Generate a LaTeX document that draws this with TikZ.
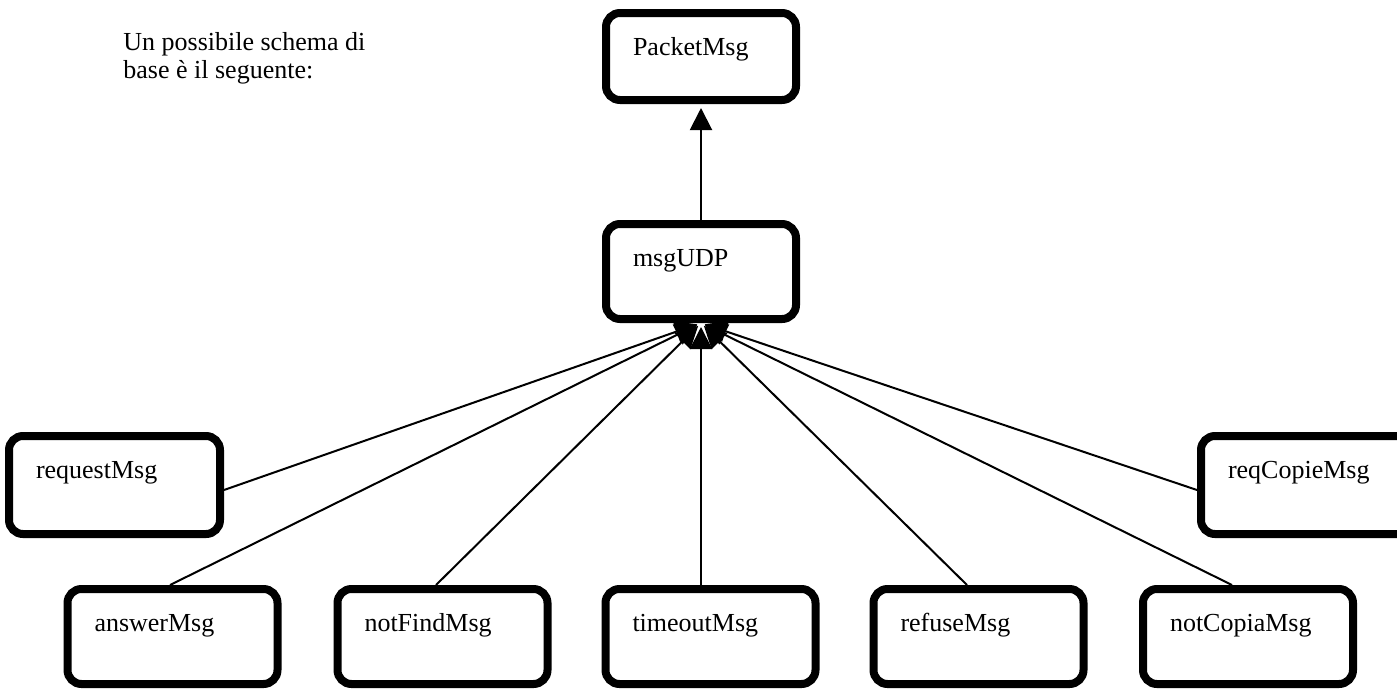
\documentclass[tikz,border=0pt]{standalone}
\usepackage{fontspec}
\setmainfont{Liberation Serif}
\usetikzlibrary{arrows.meta}
\begin{document}
\begin{tikzpicture}[x=0.5pt,y=-0.5pt,
  msgbox/.style={draw=black, line width=4pt, rounded corners=7pt,
    inner ysep=0pt, inner xsep=13.5pt, align=left,
    text height=21pt, font=\fontsize{13pt}{14pt}\selectfont},
  topbox/.style={msgbox, text width=68pt},
  sidebox/.style={msgbox, text width=78.5pt, text depth=28pt},
  lowbox/.style={msgbox, text width=78pt, text depth=26.5pt},
  inherit/.style={line width=1pt,
    -{Triangle[length=11pt,width=11pt]}, shorten >=2pt}]
\useasboundingbox (0,0) rectangle (1397,691);

% intro text (anchored on the baseline of its second line)
\node[anchor=base west, align=left, inner sep=0pt,
      font=\fontsize{13pt}{14pt}\selectfont] (intro) at (123,78)
  {Un possibile schema di\\base è il seguente:};

% class boxes
\node[topbox, text depth=22.5pt] (packet) at (701,56.5) {PacketMsg};
\node[topbox, text depth=26.5pt] (udp) at (701,271.5) {msgUDP};
\node[sidebox] (request) at (114.5,485) {requestMsg};
\node[sidebox] (reqcopie) at (1306.5,485) {reqCopieMsg};
\node[lowbox] (answer) at (172.5,636.5) {answerMsg};
\node[lowbox] (notfind) at (442.5,636.5) {notFindMsg};
\node[lowbox] (timeout) at (710.5,636.5) {timeoutMsg};
\node[lowbox] (refuse) at (978.5,636.5) {refuseMsg};
\node[lowbox] (notcopia) at (1248,636.5) {notCopiaMsg};

% generalisation arrows
\draw[inherit] (udp.north) -- (packet.south);
\draw[inherit] ([yshift=-2.5pt]request.east) -- (udp.south);
\draw[inherit] ([yshift=-2.5pt]reqcopie.west) -- (udp.south);
\draw[inherit] ([xshift=-1.25pt]answer.north) -- (udp.south);
\draw[inherit] ([xshift=-3.25pt]notfind.north) -- (udp.south);
\draw[inherit] ([xshift=-4.75pt]timeout.north) -- (udp.south);
\draw[inherit] ([xshift=-5.75pt]refuse.north) -- (udp.south);
\draw[inherit] ([xshift=-8pt]notcopia.north) -- (udp.south);
\end{tikzpicture}
\end{document}
